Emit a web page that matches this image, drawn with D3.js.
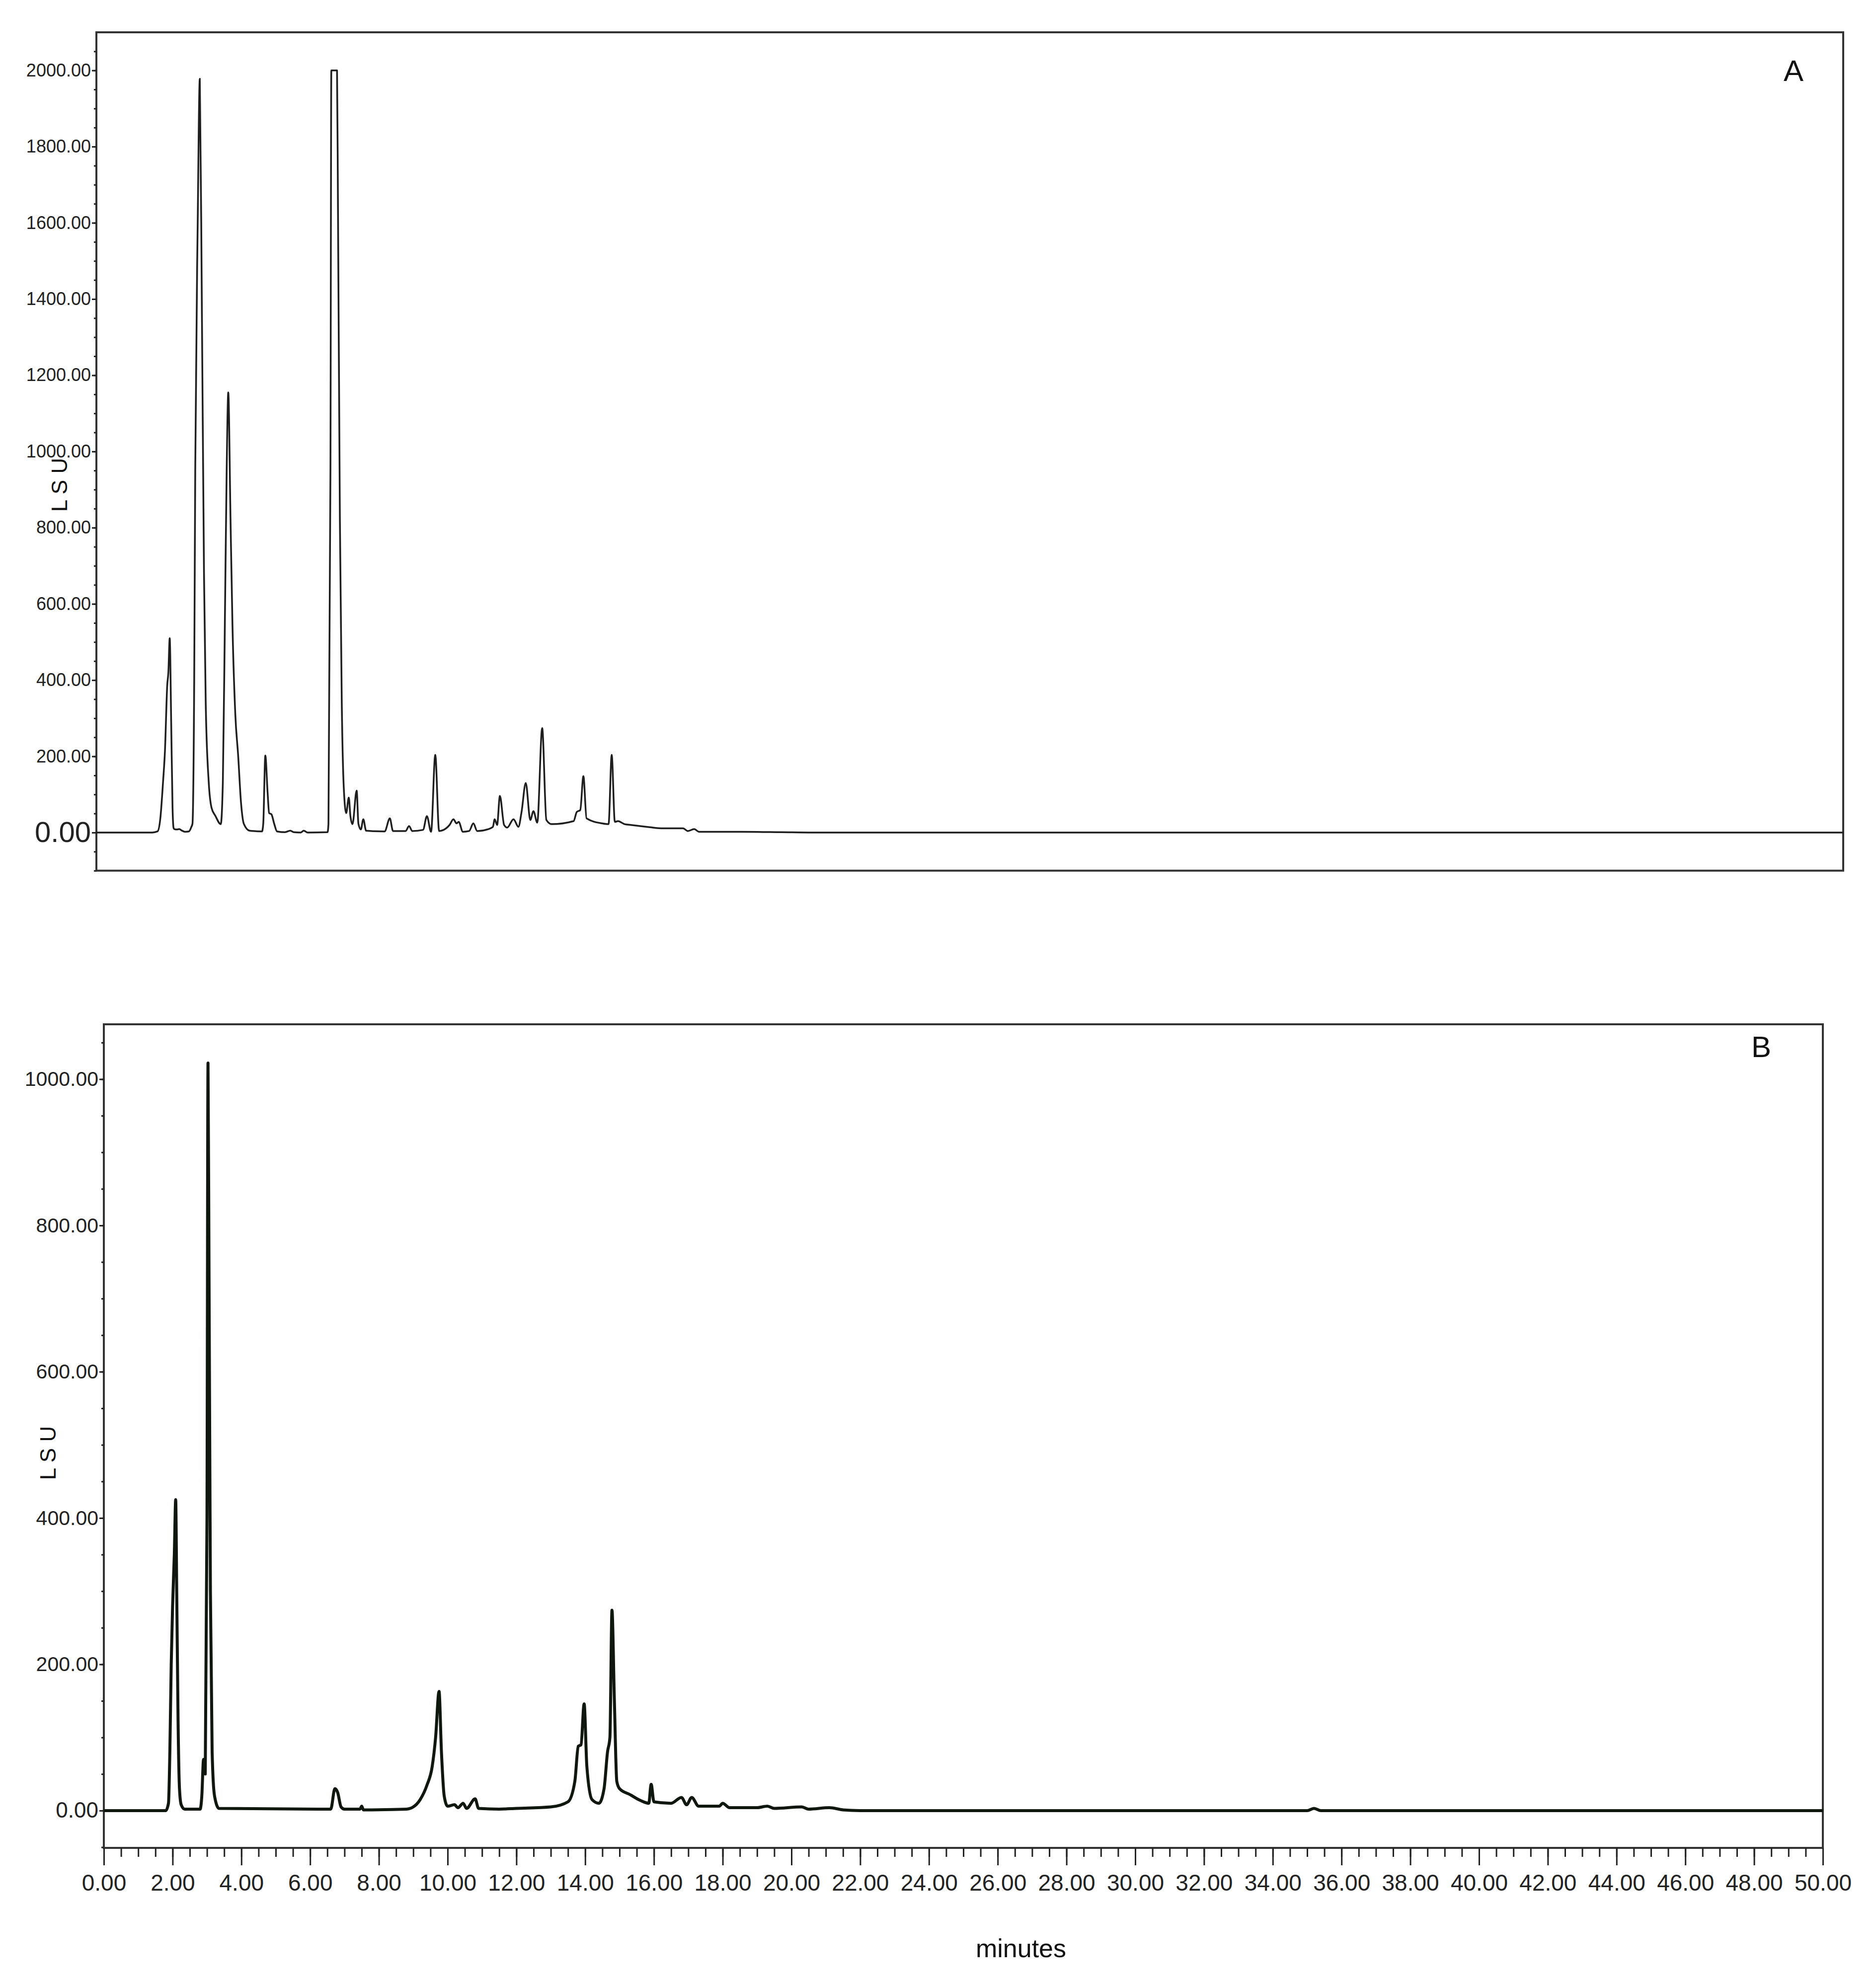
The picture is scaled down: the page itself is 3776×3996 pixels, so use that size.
<!DOCTYPE html>
<html><head><meta charset="utf-8">
<script src="https://cdn.jsdelivr.net/npm/d3@7"></script>
<style>html,body{margin:0;padding:0;background:#fff;}</style>
</head><body>
<script>
// ---------- DATA ----------
const timeTicks = d3.range(0, 50.001, 2);
const yTicksA = [0,200,400,600,800,1000,1200,1400,1600,1800,2000];
const yTicksB = [0,200,400,600,800,1000];
const panelLabels = ["A","B"];
const yAxisTitle = "L S U";
const xAxisTitle = "minutes";

const timesA = [0,1.60,1.75,1.83,1.908,1.963,2.028,2.06,2.099,2.142,2.18,2.21,2.235,2.30,2.37,2.45,2.535,2.65,2.72,2.75,2.80,2.83,2.90,2.96,3.02,3.08,3.13,3.215,3.296,3.405,3.56,3.62,3.677,3.73,3.775,3.84,3.895,3.976,4.058,4.14,4.22,4.385,4.74,4.776,4.836,4.90,4.945,5.01,5.09,5.17,5.40,5.55,5.65,5.85,5.935,6.05,6.616,6.643,6.70,6.725,6.888,6.915,6.97,7.024,7.08,7.15,7.225,7.27,7.33,7.45,7.50,7.57,7.64,7.72,8.25,8.40,8.49,8.85,8.95,9.04,9.35,9.46,9.58,9.70,9.81,9.94,10.11,10.22,10.31,10.37,10.49,10.67,10.79,10.90,11.22,11.35,11.40,11.47,11.55,11.67,11.76,11.94,12.08,12.17,12.29,12.42,12.51,12.62,12.76,12.88,13.03,13.66,13.75,13.85,13.94,14.03,14.48,14.66,14.75,14.84,14.93,15.12,15.30,15.75,15.93,16.20,16.79,16.93,17.11,17.25,18.47,19.6,20.5,50];
const valuesA = [0,0,3,37,133,215,387,420,510,284,65,12,9,8,9,5,2,3,15,23,400,956,1600,1978,1368,682,339,133,65,44,22,133,545,956,1155,819,545,311,202,78,23,5,3,23,202,106,51,48,23,3,1,5,1,0,5,0,1,23,956,2000,2000,1642,819,339,120,51,92,44,22,110,23,8,35,5,3,37,4,4,17,4,7,43,2,204,4,7,20,35,24,28,2,4,24,4,9,15,35,20,96,20,13,35,15,54,130,33,56,26,274,33,22,30,54,59,148,37,24,22,204,28,30,22,20,15,13,11,11,4,9,2,2,1,0,0];

const timesB = [0,1.80,1.88,1.92,1.96,2.00,2.05,2.09,2.12,2.16,2.20,2.25,2.35,2.80,2.85,2.90,2.95,3.00,3.03,3.06,3.10,3.15,3.22,3.35,6.60,6.72,6.80,6.90,7.0,7.45,7.50,7.55,8.8,9.0,9.2,9.4,9.55,9.65,9.75,9.82,9.9,10.0,10.2,10.3,10.45,10.55,10.8,10.9,11.5,12.0,13.0,13.5,13.7,13.8,13.88,13.97,14.05,14.2,14.4,14.55,14.65,14.72,14.78,14.85,14.92,15.0,15.3,15.6,15.85,15.92,16.0,16.5,16.8,16.95,17.1,17.3,17.9,18.0,18.2,19.0,19.3,19.5,20.3,20.5,21.1,21.5,22,35.0,35.2,35.4,50];
const valuesB = [0,0,10,80,200,280,350,425,300,120,30,8,2,2,20,70,50,400,1022,730,300,80,20,3,2,30,25,5,2,2,6,1,2,5,15,35,60,100,163,80,20,6,8,4,10,3,16,3,2,3,5,12,40,88,90,146,60,15,10,30,80,100,274,150,40,30,22,14,10,36,12,10,18,8,18,6,6,10,4,4,6,3,5,2,4,1,0,0,3,0,0];

// ---------- DRAW ----------
const W = 3776, H = 3996;
const svg = d3.select("body").append("svg").attr("width", W).attr("height", H)
  .style("background", "#fff");
svg.append("rect").attr("width", W).attr("height", H).attr("fill", "#fff");

const FONT = "'Liberation Sans', Arial, sans-serif";
const fmt = d3.format(".2f");

// Panel A
const A = {left:194, right:3710, top:65, bottom:1752.7};
const xA = d3.scaleLinear().domain([0,50]).range([A.left, A.right]);
const yA = d3.scaleLinear().domain([-100,2100]).range([A.bottom, A.top]);

// Panel B
const B = {left:209, right:3669, top:2062, bottom:3720};
const xB = d3.scaleLinear().domain([0,50]).range([B.left, B.right]);
const yB = d3.scaleLinear().domain([-51,1075]).range([B.bottom, B.top]);

function frame(p){
  svg.append("rect").attr("x", p.left).attr("y", p.top)
    .attr("width", p.right-p.left).attr("height", p.bottom-p.top)
    .attr("fill","none").attr("stroke","#333").attr("stroke-width",4);
}

function yAxis(p, y, ticks, fontSize, zeroSize){
  const minor = d3.range(Math.ceil(y.domain()[0]/50)*50, y.domain()[1], 50);
  const gm = svg.append("g").attr("transform", `translate(${p.left},0)`)
    .call(d3.axisLeft(y).tickValues(minor).tickSize(5).tickFormat("").tickSizeOuter(0));
  gm.select(".domain").remove();
  gm.selectAll("line").attr("stroke","#222").attr("stroke-width",3);
  const g = svg.append("g").attr("transform", `translate(${p.left},0)`)
    .call(d3.axisLeft(y).tickValues(ticks).tickSize(9).tickPadding(2).tickFormat(fmt).tickSizeOuter(0));
  g.select(".domain").remove();
  g.selectAll("line").attr("stroke","#222").attr("stroke-width",3);
  g.selectAll("text").attr("font-family", FONT).attr("font-size", fontSize).attr("fill","#222");
  g.selectAll("text").filter(d => d === 0).attr("font-size", zeroSize);
}

frame(A);
yAxis(A, yA, yTicksA, 36, 58);
frame(B);
yAxis(B, yB, yTicksB, 41, 44);

// x axis B
const minorX = d3.range(0, 50.001, 0.5);
const gxm = svg.append("g").attr("transform", `translate(0,${B.bottom})`)
  .call(d3.axisBottom(xB).tickValues(minorX).tickSize(18).tickFormat("").tickSizeOuter(0));
gxm.select(".domain").remove();
gxm.selectAll("line").attr("stroke","#222").attr("stroke-width",3);
const gx = svg.append("g").attr("transform", `translate(0,${B.bottom})`)
  .call(d3.axisBottom(xB).tickValues(timeTicks).tickSize(35).tickPadding(18).tickFormat(fmt).tickSizeOuter(0));
gx.select(".domain").remove();
gx.selectAll("line").attr("stroke","#222").attr("stroke-width",3);
gx.selectAll("text").attr("font-family", FONT).attr("font-size", 46).attr("fill","#222");

// lines
const lineA = d3.line().x((d,i)=>xA(timesA[i])).y(d=>yA(d)).curve(d3.curveMonotoneX);
svg.append("path").attr("d", lineA(valuesA)).attr("fill","none")
  .attr("stroke","#1e1e1e").attr("stroke-width",3.5).attr("stroke-linejoin","round");

const lineB = d3.line().x((d,i)=>xB(timesB[i])).y(d=>yB(d)).curve(d3.curveMonotoneX);
svg.append("path").attr("d", lineB(valuesB)).attr("fill","none")
  .attr("stroke","#0f170f").attr("stroke-width",6).attr("stroke-linejoin","round");

// labels
svg.append("text").attr("x", 3610).attr("y", 163).attr("text-anchor","middle")
  .attr("font-family", FONT).attr("font-size", 60).attr("fill","#111").text(panelLabels[0]);
svg.append("text").attr("x", 3545).attr("y", 2128).attr("text-anchor","middle")
  .attr("font-family", FONT).attr("font-size", 60).attr("fill","#111").text(panelLabels[1]);

svg.append("text").attr("transform","translate(135,976) rotate(-90)").attr("text-anchor","middle")
  .attr("font-family", FONT).attr("font-size", 44).attr("fill","#111").text(yAxisTitle);
svg.append("text").attr("transform","translate(112,2925) rotate(-90)").attr("text-anchor","middle")
  .attr("font-family", FONT).attr("font-size", 44).attr("fill","#111").text(yAxisTitle);

svg.append("text").attr("x", 2055).attr("y", 3940).attr("text-anchor","middle")
  .attr("font-family", FONT).attr("font-size", 52).attr("fill","#111").text(xAxisTitle);
</script>
</body></html>
